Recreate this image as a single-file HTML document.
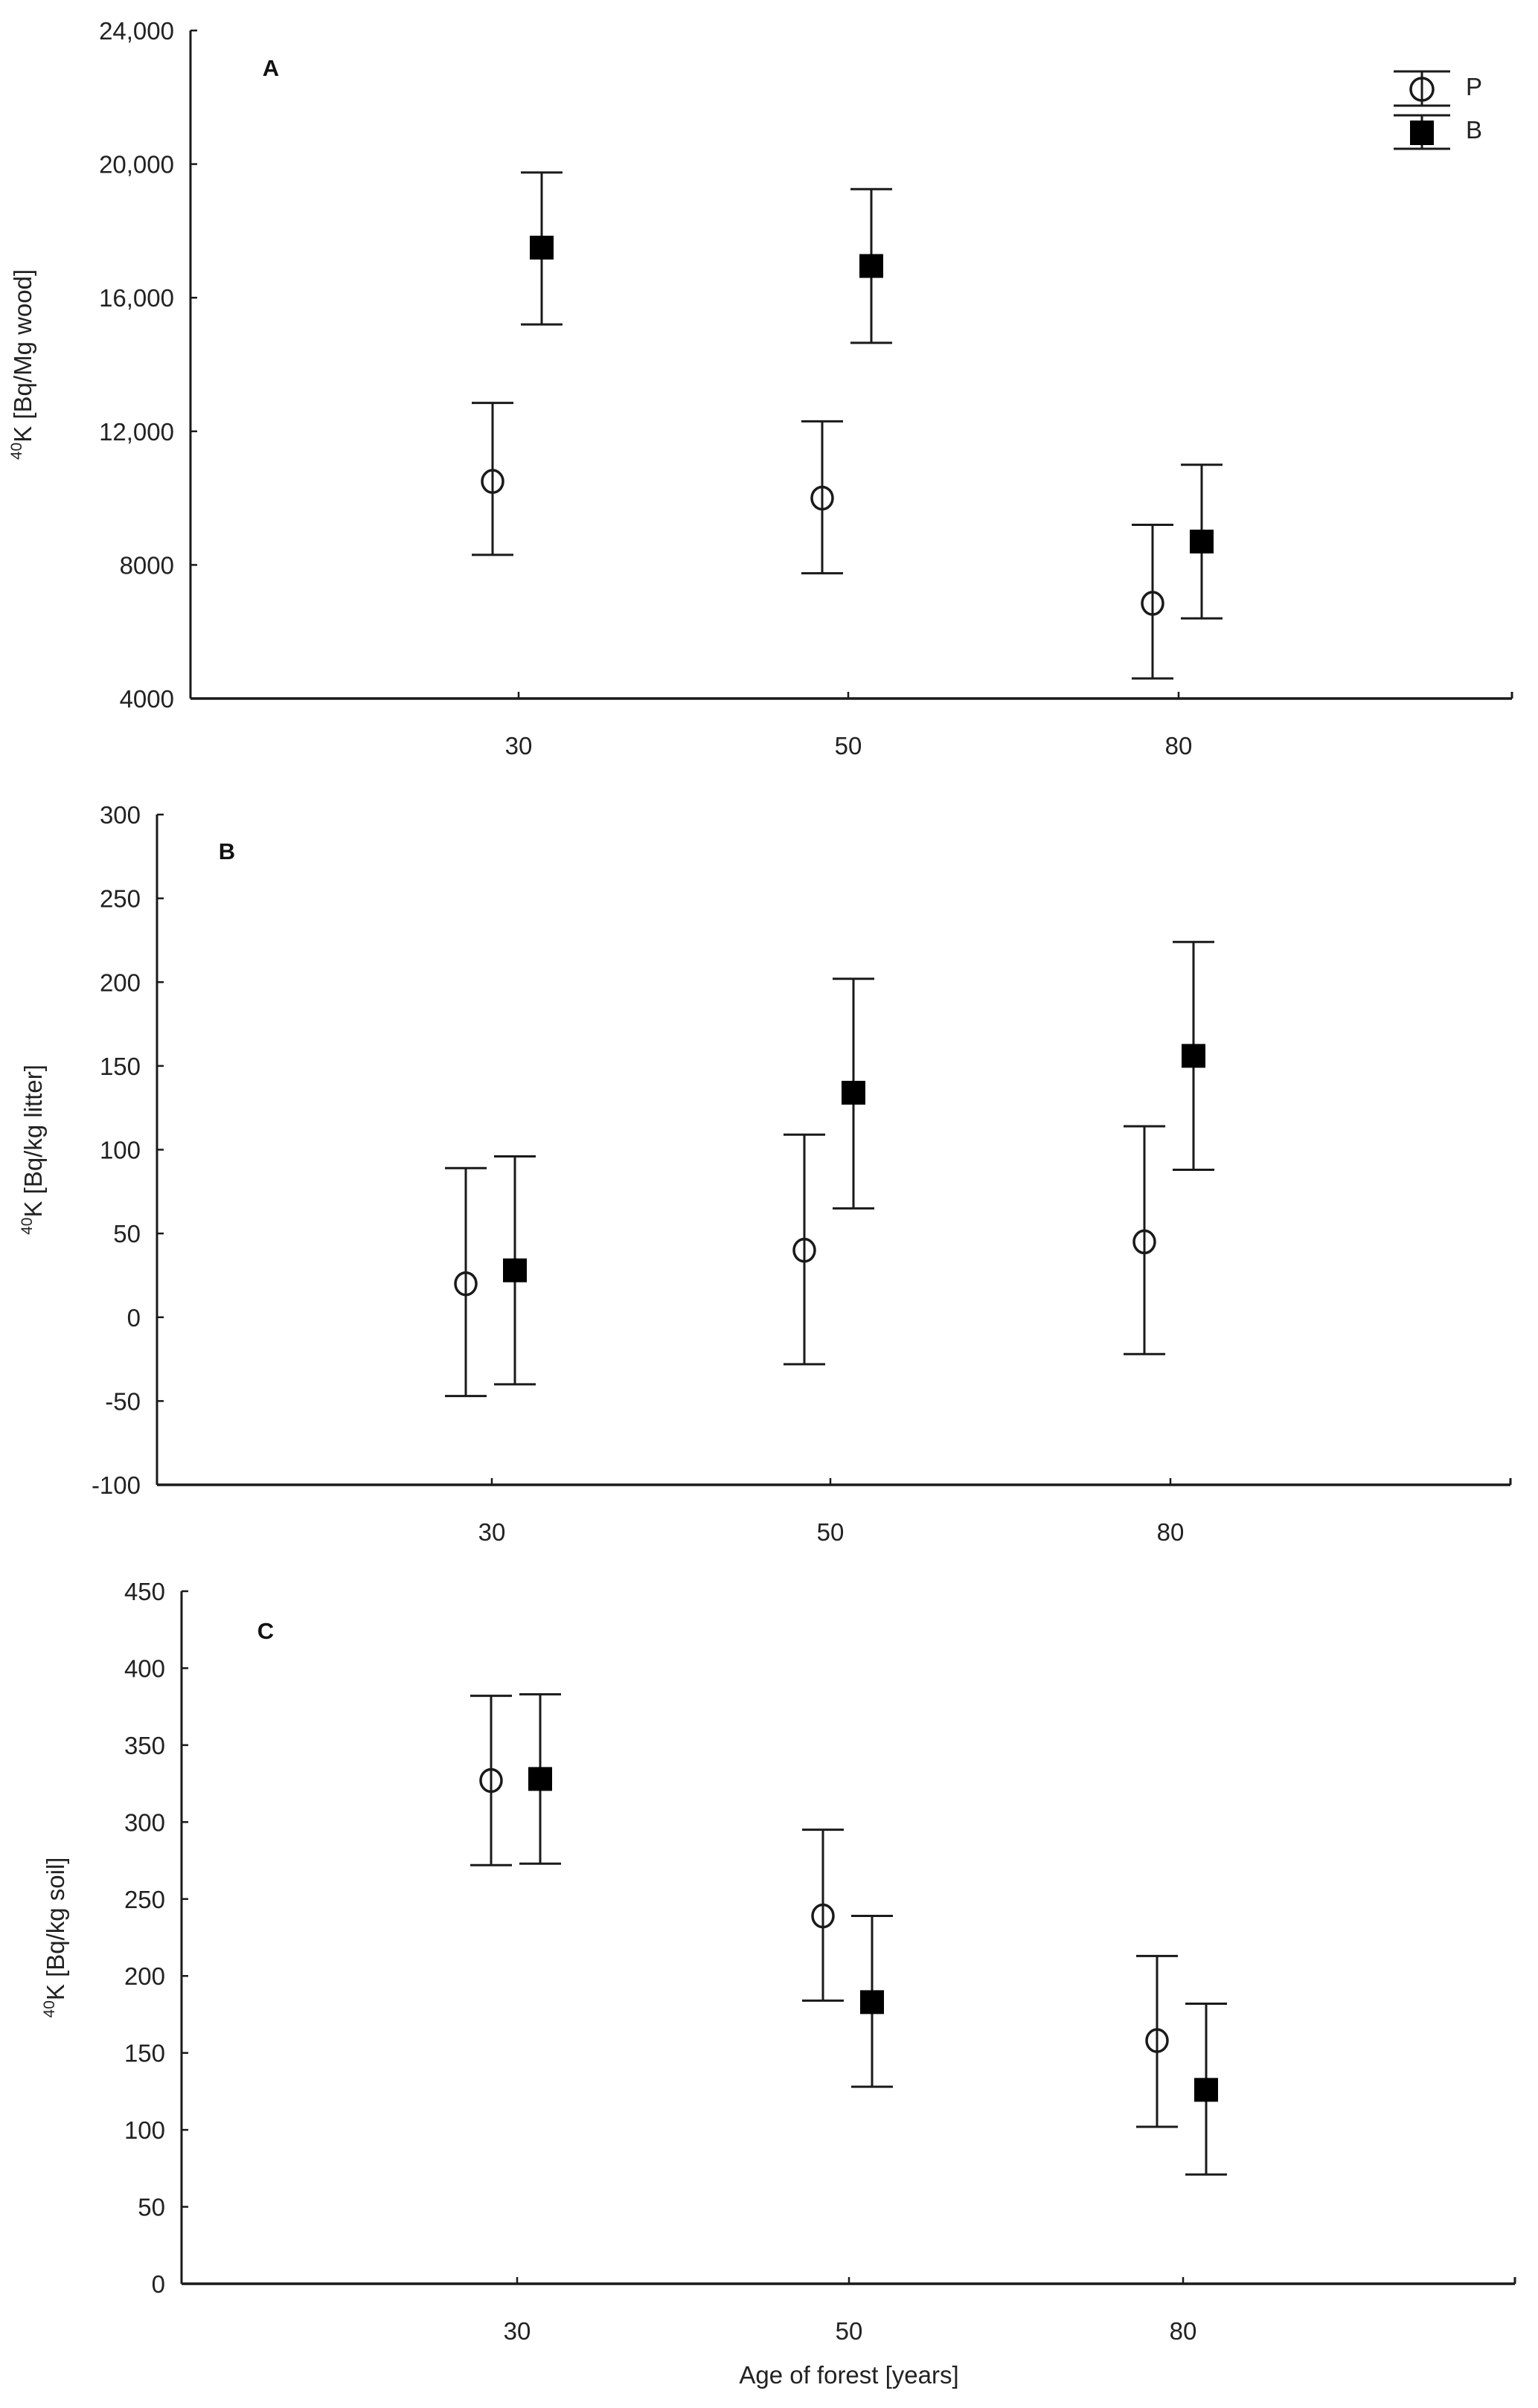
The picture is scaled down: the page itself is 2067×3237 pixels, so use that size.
<!DOCTYPE html>
<html><head><meta charset="utf-8"><style>
html,body{margin:0;padding:0;background:#fff;}
svg{display:block;font-family:"Liberation Sans",Arial,sans-serif;}
</style></head><body>
<svg id="chart" width="2067" height="3237" viewBox="0 0 2067 3237" xmlns="http://www.w3.org/2000/svg"></svg>
<script>
const categories = ["30","50","80"];
// Panel A (wood)
const aP = [10500, 10000, 6850];
const aPlo = [8300, 7750, 4600];
const aPhi = [12850, 12300, 9200];
const aB = [17500, 16950, 8700];
const aBlo = [15200, 14650, 6400];
const aBhi = [19750, 19250, 11000];
const aTicks = [4000, 8000, 12000, 16000, 20000, 24000];
const aTickLabels = ["4000","8000","12,000","16,000","20,000","24,000"];
// Panel B (litter)
const bP = [20, 40, 45];
const bPlo = [-47, -28, -22];
const bPhi = [89, 109, 114];
const bB = [28, 134, 156];
const bBlo = [-40, 65, 88];
const bBhi = [96, 202, 224];
const bTicks = [-100, -50, 0, 50, 100, 150, 200, 250, 300];
const bTickLabels = ["-100","-50","0","50","100","150","200","250","300"];
// Panel C (soil)
const cP = [327, 239, 158];
const cPlo = [272, 184, 102];
const cPhi = [382, 295, 213];
const cB = [328, 183, 126];
const cBlo = [273, 128, 71];
const cBhi = [383, 239, 182];
const cTicks = [0, 50, 100, 150, 200, 250, 300, 350, 400, 450];
const cTickLabels = ["0","50","100","150","200","250","300","350","400","450"];

const NS = "http://www.w3.org/2000/svg";
const svg = document.getElementById("chart");
function mk(tag, attrs, parent) {
  const e = document.createElementNS(NS, tag);
  for (const k in attrs) e.setAttribute(k, attrs[k]);
  (parent || svg).appendChild(e);
  return e;
}
const INK = "#1a1a1a";

const panels = [
  {id:"a", letter:"A", ax:256, right:2032, top:41, bottom:939, min:4000, max:24000,
   xt:[697,1140,1584], ticks:aTicks, labels:aTickLabels, P:aP, Plo:aPlo, Phi:aPhi, B:aB, Blo:aBlo, Bhi:aBhi,
   ylab:"[Bq/Mg wood]", ylx:42, letterX:364, letterY:102},
  {id:"b", letter:"B", ax:211, right:2030, top:1095, bottom:1996, min:-100, max:300,
   xt:[661,1116,1573], ticks:bTicks, labels:bTickLabels, P:bP, Plo:bPlo, Phi:bPhi, B:bB, Blo:bBlo, Bhi:bBhi,
   ylab:"[Bq/kg litter]", ylx:56, letterX:305, letterY:1155},
  {id:"c", letter:"C", ax:244, right:2036, top:2139, bottom:3070, min:0, max:450,
   xt:[695,1141,1590], ticks:cTicks, labels:cTickLabels, P:cP, Plo:cPlo, Phi:cPhi, B:cB, Blo:cBlo, Bhi:cBhi,
   ylab:"[Bq/kg soil]", ylx:86, letterX:357, letterY:2203}
];

panels.forEach(p => {
  const g = mk("g", {});
  
  
  const y = v => p.bottom - (v - p.min) / (p.max - p.min) * (p.bottom - p.top);
  const xc = i => p.xt[i];
  const yaxis = mk("line", {x1:p.ax, y1:p.top, x2:p.ax, y2:p.bottom, stroke:INK, "stroke-width":3}, g);
  
  
  const xaxis = mk("line", {x1:p.ax, y1:p.bottom, x2:p.right, y2:p.bottom, stroke:INK, "stroke-width":3.5}, g);
  
  
  mk("line", {x1:p.right, y1:p.bottom, x2:p.right, y2:p.bottom-9, stroke:INK, "stroke-width":3}, g);
  p.ticks.forEach((t, i) => {
    const yy = y(t);
    mk("line", {x1:p.ax, y1:yy, x2:p.ax+9, y2:yy, stroke:INK, "stroke-width":2.5}, g);
    const tl = mk("text", {x:p.ax-22, y:yy+12, "text-anchor":"end", "font-size":33, fill:"#222"}, g);
    tl.textContent = p.labels[i];
    
    
  });
  categories.forEach((c, i) => {
    mk("line", {x1:xc(i), y1:p.bottom, x2:xc(i), y2:p.bottom-9, stroke:INK, "stroke-width":2.5}, g);
    const tl = mk("text", {x:xc(i), y:p.bottom+75, "text-anchor":"middle", "font-size":33, fill:"#222"}, g);
    tl.textContent = c;
    
    
  });
  const cy = (p.top + p.bottom) / 2;
  const yl = mk("text", {transform:"translate(" + p.ylx + "," + cy + ") rotate(-90)", "text-anchor":"middle", "font-size":33, fill:"#222"}, g);
  
  
  const sup = mk("tspan", {"font-size":21, dy:-13}, yl); sup.textContent = "40";
  const kk = mk("tspan", {dy:13}, yl); kk.textContent = "K " + p.ylab;
  const lt = mk("text", {x:p.letterX, y:p.letterY, "text-anchor":"middle", "font-size":31, "font-weight":"bold", fill:"#111"}, g);
  lt.textContent = p.letter;
  
  
  categories.forEach((c, i) => {
    const px = xc(i) - 35;
    const eb = mk("g", {stroke:INK, "stroke-width":3, fill:"none"}, g);
    
    
    mk("line", {x1:px, y1:y(p.Plo[i]), x2:px, y2:y(p.Phi[i])}, eb);
    mk("line", {x1:px-28, y1:y(p.Plo[i]), x2:px+28, y2:y(p.Plo[i])}, eb);
    mk("line", {x1:px-28, y1:y(p.Phi[i]), x2:px+28, y2:y(p.Phi[i])}, eb);
    const pt = mk("ellipse", {cx:px, cy:y(p.P[i]), rx:14, ry:15, fill:"#fff", stroke:INK, "stroke-width":3.5}, g);
    
    
    mk("line", {x1:px, y1:y(p.P[i])-15, x2:px, y2:y(p.P[i])+15, stroke:INK, "stroke-width":3}, g);
    const bx = xc(i) + 31;
    const eb2 = mk("g", {stroke:INK, "stroke-width":3, fill:"none"}, g);
    
    
    mk("line", {x1:bx, y1:y(p.Blo[i]), x2:bx, y2:y(p.Bhi[i])}, eb2);
    mk("line", {x1:bx-28, y1:y(p.Blo[i]), x2:bx+28, y2:y(p.Blo[i])}, eb2);
    mk("line", {x1:bx-28, y1:y(p.Bhi[i]), x2:bx+28, y2:y(p.Bhi[i])}, eb2);
    const sq = mk("rect", {x:bx-16, y:y(p.B[i])-16, width:32, height:32, fill:"#000"}, g);
    
    
  });
});

const lg = mk("g", {stroke:INK, "stroke-width":3, fill:"none"});


const lx = 1911;
mk("line", {x1:lx-38, y1:96, x2:lx+38, y2:96}, lg);
mk("line", {x1:lx-38, y1:142, x2:lx+38, y2:142}, lg);
mk("line", {x1:lx, y1:96, x2:lx, y2:142}, lg);
mk("ellipse", {cx:lx, cy:120, rx:15, ry:15, fill:"#fff", "stroke-width":3.5}, lg);
mk("line", {x1:lx, y1:105, x2:lx, y2:135}, lg);
mk("line", {x1:lx-38, y1:155, x2:lx+38, y2:155}, lg);
mk("line", {x1:lx-38, y1:200, x2:lx+38, y2:200}, lg);
mk("line", {x1:lx, y1:155, x2:lx, y2:200}, lg);
mk("rect", {x:lx-16, y:162, width:32, height:33, fill:"#000", stroke:"none"}, lg);
const lp = mk("text", {x:1970, y:128, "font-size":33, fill:"#222", stroke:"none"}, lg);
lp.textContent = "P";


const lb = mk("text", {x:1970, y:186, "font-size":33, fill:"#222", stroke:"none"}, lg);
lb.textContent = "B";



const xt = mk("text", {x:1141, y:3204, "text-anchor":"middle", "font-size":33, fill:"#222"});
xt.textContent = "Age of forest [years]";


</script>
</body></html>
